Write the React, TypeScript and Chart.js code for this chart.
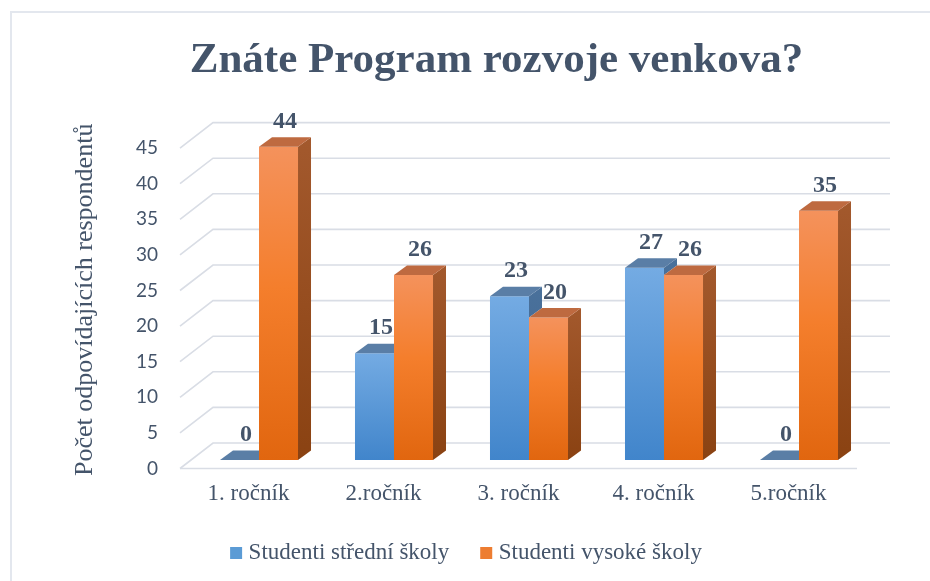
import React, { useEffect, useRef } from "react";
import { Chart, registerables } from "chart.js";

Chart.register(...registerables);

// ---------- data ----------
const chartTitle = "Znáte Program rozvoje venkova?";
const yAxisTitle = "Počet odpovídajících respondentů";
const categories = ["1. ročník", "2.ročník", "3. ročník", "4. ročník", "5.ročník"];
const seriesNames = ["Studenti střední školy", "Studenti vysoké školy"];
const stredniSkola = [0, 15, 23, 27, 0];
const vysokaSkola = [44, 26, 20, 26, 35];
const yMin = 0;
const yMax = 45;
const yStep = 5;

// ---------- style ----------
const TEXT = "#44546A";
const GRID = "#d9dde5";
const SERIF = "'Liberation Serif', 'Times New Roman', serif";
const DEPTH = { dx: 13, dy: -9.5 };
const FRONT_L = -11.5;
const FRONT_R = -9.5;
const FRONT_DY = 8.5;
const BACK_L = 21.5;
const BACK_R = 23.5;
const BACK_DY = -17;
const LEGEND_SHIFT = -25.5;
const TITLE_SHIFT = 2.5;

const palettes = [
  { stops: ["#74abe3", "#5d9ad8", "#4185cb"], top: "#5a7ea6", sideTop: "#4a719b", sideBottom: "#3b6390", legend: "#5b9bd5" },
  { stops: ["#f4925c", "#f47e2c", "#e1660f"], top: "#be6a40", sideTop: "#a3592d", sideBottom: "#8a4212", legend: "#ed7d31" },
];

function frontFill(pi: number) {
  return (c: any) => {
    const chart = c.chart;
    const ys = chart.scales && chart.scales.y;
    const pal = palettes[pi];
    if (!chart.chartArea || !ys || c.type !== "data") return pal.legend;
    const v = Number(c.raw) || 0;
    const top = ys.getPixelForValue(v);
    const base = ys.getPixelForValue(0);
    if (base - top < 1) return pal.stops[2];
    const g = chart.ctx.createLinearGradient(0, top, 0, base);
    g.addColorStop(0, pal.stops[0]);
    g.addColorStop(0.45, pal.stops[1]);
    g.addColorStop(1, pal.stops[2]);
    return g;
  };
}

function box(el: any) {
  const p = el.getProps(["x", "y", "base", "width"], true);
  return {
    l: p.x - p.width / 2,
    r: p.x + p.width / 2,
    t: Math.min(p.y, p.base),
    b: Math.max(p.y, p.base),
    cx: p.x,
  };
}

function drawFaces(ctx: CanvasRenderingContext2D, bx: any, pal: any) {
  const { l, r, t, b } = bx;
  const { dx, dy } = DEPTH;
  if (b - t > 0.5) {
    const g = ctx.createLinearGradient(0, t + dy, 0, b);
    g.addColorStop(0, pal.sideTop);
    g.addColorStop(1, pal.sideBottom);
    ctx.fillStyle = g;
    ctx.beginPath();
    ctx.moveTo(r, t);
    ctx.lineTo(r + dx, t + dy);
    ctx.lineTo(r + dx, b + dy);
    ctx.lineTo(r, b);
    ctx.closePath();
    ctx.fill();
  }
  ctx.fillStyle = pal.top;
  ctx.beginPath();
  ctx.moveTo(l, t);
  ctx.lineTo(l + dx, t + dy);
  ctx.lineTo(r + dx, t + dy);
  ctx.lineTo(r, t);
  ctx.closePath();
  ctx.fill();
}

function silhouette(ctx: CanvasRenderingContext2D, bx: any) {
  const { l, r, t, b } = bx;
  const { dx, dy } = DEPTH;
  ctx.moveTo(l, b);
  ctx.lineTo(l, t);
  ctx.lineTo(l + dx, t + dy);
  ctx.lineTo(r + dx, t + dy);
  ctx.lineTo(r + dx, b + dy);
  ctx.lineTo(r, b);
  ctx.closePath();
}

const bar3d = {
  id: "bar3d",
  afterLayout(chart: any) {
    const lg = chart.legend;
    if (lg) {
      lg.left += LEGEND_SHIFT;
      lg.right += LEGEND_SHIFT;
    }
    const tt = chart.titleBlock;
    if (tt) {
      tt.left += TITLE_SHIFT;
      tt.right += TITLE_SHIFT;
    }
  },
  beforeDatasetsDraw(chart: any) {
    const ctx = chart.ctx as CanvasRenderingContext2D;
    const ys = chart.scales.y;
    const { left, right } = chart.chartArea;
    ctx.save();
    ctx.strokeStyle = GRID;
    ctx.lineWidth = 1.6;
    ys.ticks.forEach((t: any) => {
      const py = ys.getPixelForValue(t.value);
      ctx.beginPath();
      ctx.moveTo(left + FRONT_L, py + FRONT_DY);
      ctx.lineTo(left + BACK_L, py + BACK_DY);
      ctx.lineTo(right + BACK_R, py + BACK_DY);
      ctx.stroke();
    });
    const p0 = ys.getPixelForValue(yMin);
    ctx.beginPath();
    ctx.moveTo(left + FRONT_L, p0 + FRONT_DY);
    ctx.lineTo(right + FRONT_R, p0 + FRONT_DY);
    ctx.stroke();
    ctx.restore();
  },
  afterDatasetsDraw(chart: any) {
    const ctx = chart.ctx as CanvasRenderingContext2D;
    const metas = chart.data.datasets.map((_: any, i: number) => chart.getDatasetMeta(i));
    const n = chart.data.labels.length;
    for (let c = 0; c < n; c++) {
      for (let d = 0; d < metas.length; d++) {
        const el = metas[d].data[c];
        if (!el) continue;
        const bx = box(el);
        ctx.save();
        ctx.beginPath();
        ctx.rect(0, 0, chart.width, chart.height);
        for (let k = d + 1; k < metas.length; k++) {
          const other = metas[k].data[c];
          if (other) silhouette(ctx, box(other));
        }
        ctx.clip("evenodd");
        drawFaces(ctx, bx, palettes[d]);
        ctx.restore();
      }
    }
    ctx.save();
    ctx.fillStyle = TEXT;
    ctx.font = `bold 24px ${SERIF}`;
    ctx.textAlign = "center";
    ctx.textBaseline = "middle";
    metas.forEach((m: any, d: number) => {
      m.data.forEach((el: any, i: number) => {
        const bx = box(el);
        const v = chart.data.datasets[d].data[i];
        ctx.fillText(String(v), bx.cx + 6.5, bx.t - 25);
      });
    });
    ctx.restore();
  },
};

export default function App() {
  const ref = useRef<HTMLCanvasElement>(null);

  useEffect(() => {
    const canvas = ref.current;
    if (!canvas) return;
    const chart = new Chart(canvas, {
      type: "bar",
      data: {
        labels: categories,
        datasets: [
          {
            label: seriesNames[0],
            data: stredniSkola,
            backgroundColor: frontFill(0),
            borderWidth: 0,
            categoryPercentage: 0.578,
            barPercentage: 1,
          },
          {
            label: seriesNames[1],
            data: vysokaSkola,
            backgroundColor: frontFill(1),
            borderWidth: 0,
            categoryPercentage: 0.578,
            barPercentage: 1,
          },
        ],
      },
      options: {
        responsive: false,
        maintainAspectRatio: false,
        devicePixelRatio: 1,
        animation: false,
        layout: { padding: { left: 121.5, right: 63.5, top: 0, bottom: 6.5 } },
        plugins: {
          title: {
            display: true,
            text: chartTitle,
            color: TEXT,
            font: { family: SERIF, size: 43, weight: "bold" },
            padding: { top: 35, bottom: 53 },
          },
          legend: {
            position: "bottom",
            labels: {
              color: TEXT,
              font: { family: SERIF, size: 23 },
              usePointStyle: true,
              pointStyle: "rect",
              boxWidth: 2,
              boxHeight: 12,
              padding: 36,
              generateLabels: (ch: any) => {
                const items = Chart.defaults.plugins.legend.labels.generateLabels(ch);
                return items.map((it: any, i: number) => ({
                  ...it,
                  fillStyle: palettes[i].legend,
                  strokeStyle: palettes[i].legend,
                  lineWidth: 0,
                  pointStyle: "rect",
                }));
              },
            },
          },
          tooltip: { enabled: false },
        },
        scales: {
          x: {
            grid: { display: false, drawTicks: false },
            border: { display: false },
            ticks: {
              color: TEXT,
              font: { family: SERIF, size: 23 },
              padding: 20,
              labelOffset: -10.5,
            },
            afterFit: (s: any) => {
              s.height = 45.5;
            },
          },
          y: {
            min: yMin,
            max: yMax,
            grid: { display: false, drawTicks: false },
            border: { display: false },
            ticks: {
              stepSize: yStep,
              color: TEXT,
              font: { family: "Lato", size: 19 },
              padding: 33.5,
              labelOffset: 8.5,
            },
            title: {
              display: true,
              text: yAxisTitle,
              color: TEXT,
              font: { family: SERIF, size: 26 },
              padding: { top: -52.1, bottom: 0 },
            },
            afterFit: (s: any) => {
              s.width = 70;
            },
          },
        },
      },
      plugins: [bar3d],
    } as any);
    return () => chart.destroy();
  }, []);

  return (
    <div
      style={{
        position: "fixed",
        left: 0,
        top: 0,
        width: 930,
        height: 581,
        background: "#ffffff",
        overflow: "hidden",
      }}
    >
      <div
        style={{
          position: "absolute",
          left: 10,
          top: 11,
          width: 930,
          height: 581,
          borderLeft: "2px solid #e3e7ee",
          borderTop: "2px solid #e3e7ee",
        }}
      />
      <canvas
        ref={ref}
        width={930}
        height={581}
        style={{ position: "absolute", left: 0, top: 0, width: 930, height: 581 }}
      />
    </div>
  );
}
